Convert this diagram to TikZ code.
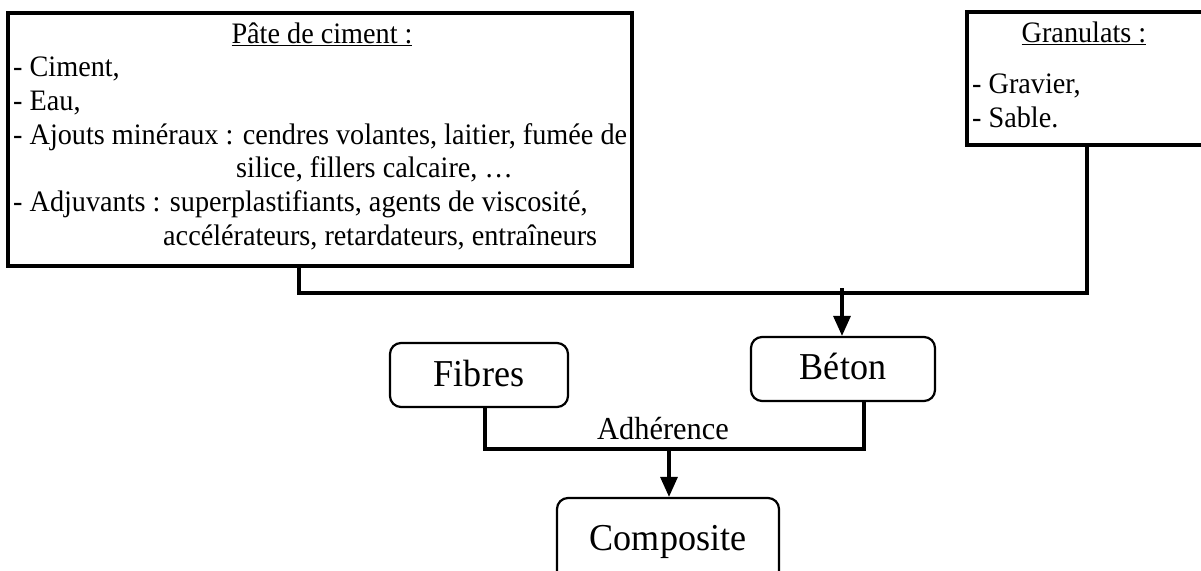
\documentclass[tikz,border=0pt]{standalone}
\usepackage{fontspec}
\usepackage{graphicx}
\setmainfont{Liberation Serif}
\usetikzlibrary{arrows.meta}
\newcommand{\nrw}[1]{\scalebox{0.95}[1]{#1}}
\begin{document}
\begin{tikzpicture}[x=1pt,y=-1pt,
  box/.style={draw, line width=3.4pt, inner sep=0pt},
  rbox/.style={draw, line width=2.2pt, rounded corners=11pt, inner sep=0pt},
  txt/.style={inner sep=0pt, anchor=base west, font=\fontsize{29.7}{34}\selectfont},
  ctxt/.style={inner sep=0pt, anchor=base, font=\fontsize{29.7}{34}\selectfont},
  bigt/.style={inner sep=0pt, anchor=base, font=\fontsize{38}{42}\selectfont},
  midt/.style={inner sep=0pt, anchor=base, font=\fontsize{32}{36}\selectfont},
  conn/.style={line width=3.2pt},
  arr/.style={line width=3.2pt, -{Triangle[width=17pt,length=20pt]}}
]
\clip (0,0) rectangle (1201,570);
\fill[white] (0,0) rectangle (1201,570);

% top boxes
\node[box, minimum width=624pt, minimum height=253pt] (pate) at (320,139.5) {};
\node[box, minimum width=236pt, minimum height=133pt] (gran) at (1085,78.5) {};

\node[ctxt] (pt) at (322,43) {\nrw{\underline{Pâte de ciment :}}};
\node[txt] (c1) at (13,76) {\nrw{- Ciment,}};
\node[txt] (c2) at (13,110) {\nrw{- Eau,}};
\node[txt] (c3) at (13,144) {\nrw{- Ajouts minéraux : cendres volantes, laitier, fumée de}};
\node[txt] (c4) at (236,177) {\nrw{silice, fillers calcaire, …}};
\node[txt] (c5) at (13,211) {\nrw{- Adjuvants : superplastifiants, agents de viscosité,}};
\node[txt] (c6) at (163,245) {\nrw{accélérateurs, retardateurs, entraîneurs}};

\node[ctxt] (gt) at (1084,42) {\nrw{\underline{Granulats :}}};
\node[txt] (g1) at (972,93) {\nrw{- Gravier,}};
\node[txt] (g2) at (972,127) {\nrw{- Sable.}};

% rounded boxes
\node[rbox, minimum width=184pt, minimum height=64pt] (beton) at (843,369) {};
\node[bigt] (betont) at (843,379) {\nrw{Béton}};
\node[rbox, minimum width=178pt, minimum height=64pt] (fibres) at (479,375) {};
\node[bigt] (fibrest) at (479,386) {\nrw{Fibres}};
\node[rbox, minimum width=222pt, minimum height=110pt] (comp) at (668,553) {};
\node[bigt] (compt) at (668,550) {\nrw{Composite}};

\node[midt] (adh) at (663,439) {\nrw{Adhérence}};

% connectors
\coordinate (jl) at (299,293);
\coordinate (jr) at (1087,293);
\draw[conn] (jl |- pate.south) -- (jl) -- (jr) -- (jr |- gran.south);
\coordinate (jb) at (842,288);
\draw[arr] (jb) -- (jb |- beton.north);

\coordinate (ja) at (485,449);
\coordinate (jc) at (864,449);
\draw[conn] (ja |- fibres.south) -- (ja) -- (jc) -- (jc |- beton.south);
\coordinate (jd) at (669,449);
\draw[arr] (jd) -- (jd |- comp.north);
\end{tikzpicture}
\end{document}
